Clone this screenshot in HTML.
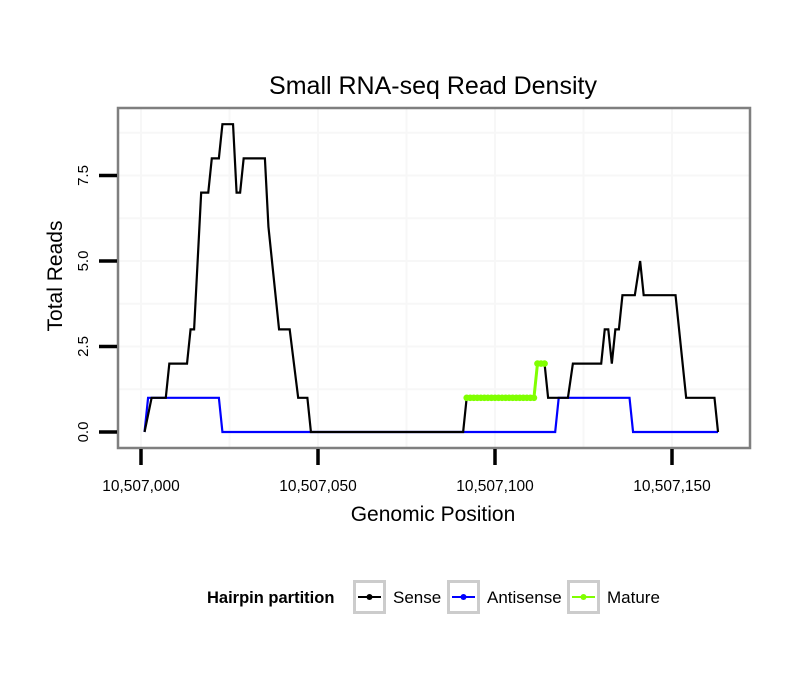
<!DOCTYPE html>
<html><head><meta charset="utf-8"><style>
body{margin:0;background:#fff;}
svg{display:block;font-family:"Liberation Sans",sans-serif;}
</style></head><body>
<svg id="chart" width="810" height="690">
</svg>
<script>
const xTicks=[10507000,10507050,10507100,10507150];
const xTickLabels=["10,507,000","10,507,050","10,507,100","10,507,150"];
const yTicks=[0,2.5,5,7.5];
const yTickLabels=["0.0","2.5","5.0","7.5"];
const senseX=[1,3,7,8,13,14,15,16,17,19,20,22,23,26,27,28,29,35,36,39,42,44.4,47,48,91,92,111,112,114,115,120.6,122,130,131,132,133,134,135,136,139.5,141,142,151,154,162,163];
const senseY=[0,1,1,2,2,3,3,5,7,7,8,8,9,9,7,7,8,8,6,3,3,1,1,0,0,1,1,2,2,1,1,2,2,3,3,2,3,3,4,4,5,4,4,1,1,0];
const antiX=[1,2,22,23,117,118,138,139,163];
const antiY=[0,1,1,0,0,1,1,0,0];
const matureX=[92,93,94,95,96,97,98,99,100,101,102,103,104,105,106,107,108,109,110,111,112,113,114];
const matureY=[1,1,1,1,1,1,1,1,1,1,1,1,1,1,1,1,1,1,1,1,2,2,2];

const NS="http://www.w3.org/2000/svg";
const svg=document.getElementById('chart');
const X0=10507000;
function sx(p){return 141+(p>=X0?p-X0:p)*3.54;}
function sy(v){return 432-v*34.2;}
function el(tag,attrs,parent){const e=document.createElementNS(NS,tag);for(const k in attrs)e.setAttribute(k,attrs[k]);(parent||svg).appendChild(e);return e;}

const panel=el('rect',{x:118,y:108,width:632,height:340,fill:'#fff'});


for(let v=1.25;v<9.5;v+=1.25){const g=el('line',{x1:119,x2:749,y1:sy(v),y2:sy(v),stroke:'#f7f7f7','stroke-width':2});

}
for(let b=-25;b<=175;b+=25){const x=sx(b);if(x<119||x>749)continue;const g=el('line',{x1:x,x2:x,y1:109,y2:447,stroke:'#f7f7f7','stroke-width':2});

}
function line(xs,ys,color,name,w){
 const pts=xs.map((x,i)=>sx(x)+','+sy(ys[i])).join(' ');
 const p=el('polyline',{points:pts,fill:'none',stroke:color,'stroke-width':w||2.2,'stroke-linejoin':'miter'});
 
 
}
line(antiX,antiY,'#0000ff','antisense-line');
line(senseX,senseY,'#000','sense-line');
line(matureX,matureY,'#80ff00','mature-line',3);
matureX.forEach((x,i)=>{const c=el('circle',{cx:sx(x),cy:sy(matureY[i]),r:3.3,fill:'#80ff00'});

});
const border=el('rect',{x:118,y:108,width:632,height:340,fill:'none',stroke:'#7f7f7f','stroke-width':2.5});


yTicks.forEach((v,i)=>{
 const t=el('line',{x1:99,x2:117,y1:sy(v),y2:sy(v),stroke:'#000','stroke-width':3.5});
 
 
 const tx=el('text',{x:0,y:0,'font-size':15,'text-anchor':'middle',transform:`translate(88,${sy(v)}) rotate(-90)`});
 tx.textContent=yTickLabels[i];
 
 
});
xTicks.forEach((p,i)=>{
 const t=el('line',{x1:sx(p),x2:sx(p),y1:449,y2:465,stroke:'#000','stroke-width':3.5});
 
 
 const tx=el('text',{x:sx(p),y:491,'font-size':15.5,'text-anchor':'middle'});
 tx.textContent=xTickLabels[i];
 
 
});
</script>
<svg style="position:absolute;left:0;top:0" width="810" height="690">
<text x="433" y="94" font-size="25" text-anchor="middle" font-family="Liberation Sans, sans-serif">Small RNA-seq Read Density</text>
<text x="433" y="521" font-size="21" text-anchor="middle" font-family="Liberation Sans, sans-serif">Genomic Position</text>
<text transform="translate(62,276) rotate(-90)" font-size="21" text-anchor="middle" font-family="Liberation Sans, sans-serif">Total Reads</text>
<g font-family="Liberation Sans, sans-serif" font-size="17">
<text x="207" y="603" font-weight="bold" font-size="16.5">Hairpin partition</text>
<g>
<rect x="354.5" y="581.5" width="30" height="31" fill="#fff" stroke="#cccccc" stroke-width="3"/>
<line x1="358" x2="381" y1="597" y2="597" stroke="#000" stroke-width="2"/><circle cx="369.5" cy="597" r="3" fill="#000"/>
<text x="393" y="603">Sense</text></g>
<g>
<rect x="448.5" y="581.5" width="30" height="31" fill="#fff" stroke="#cccccc" stroke-width="3"/>
<line x1="452" x2="475" y1="597" y2="597" stroke="#0000ff" stroke-width="2"/><circle cx="463.5" cy="597" r="3" fill="#0000ff"/>
<text x="487" y="603">Antisense</text></g>
<g>
<rect x="568.5" y="581.5" width="30" height="31" fill="#fff" stroke="#cccccc" stroke-width="3"/>
<line x1="572" x2="595" y1="597" y2="597" stroke="#80ff00" stroke-width="2"/><circle cx="583.5" cy="597" r="3" fill="#80ff00"/>
<text x="607" y="603">Mature</text></g>
</g>
</svg>
</body></html>
